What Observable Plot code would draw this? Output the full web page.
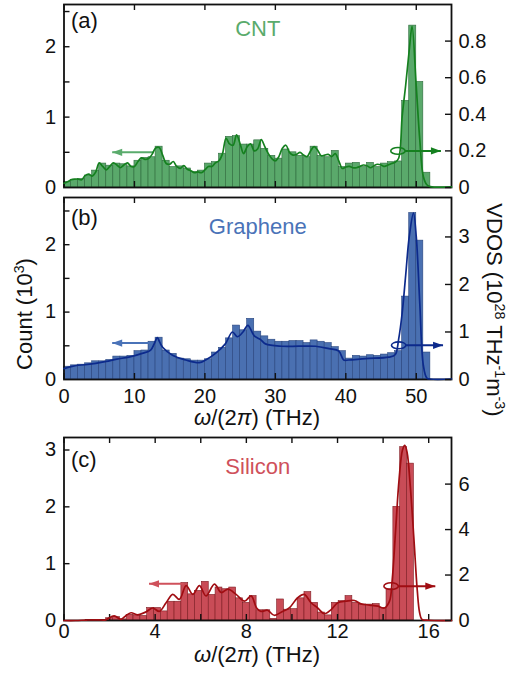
<!DOCTYPE html>
<html><head><meta charset="utf-8">
<script src="https://cdn.jsdelivr.net/npm/d3@7"></script>
<script src="https://cdn.jsdelivr.net/npm/@observablehq/plot@0.6"></script>
<style>
body{margin:0;background:#fff;}
#root{position:relative;width:508px;height:674px;overflow:hidden;font-family:"Liberation Sans",Arial,Helvetica,sans-serif;color:#111;}
.layer{position:absolute;left:0;}
.lab{position:absolute;font-size:22px;white-space:nowrap;line-height:1;transform-origin:center;}
.lab sup{font-size:65%;line-height:0;vertical-align:0.55em;}
</style></head><body><div id="root"></div>
<script>
// ---------- DATA ----------
// (a) CNT: histogram counts (10^3) in 1 THz bins starting at 0 THz
const cntCount = [0.08,0.11,0.12,0.17,0.24,0.34,0.31,0.34,0.33,0.30,
  0.38,0.42,0.43,0.58,0.38,0.29,0.30,0.27,0.22,0.24,
  0.34,0.36,0.48,0.72,0.73,0.61,0.61,0.67,0.55,0.45,
  0.41,0.54,0.50,0.45,0.43,0.58,0.45,0.43,0.52,0.29,
  0.34,0.35,0.29,0.35,0.29,0.34,0.36,0.37,1.23,2.30,
  1.50,0.21];
// (a) CNT VDOS curve [THz, 10^28 THz^-1 m^-3]
const cntVdos = [[0,0.023],[0.5,0.031],[1,0.042],[1.5,0.046],[2,0.046],[2.5,0.042],[3,0.065],[3.5,0.073],[4,0.062],[4.5,0.085],
  [5,0.135],[5.5,0.115],[6,0.096],[6.5,0.115],[7,0.135],[7.5,0.123],[8,0.108],[8.5,0.123],[9,0.135],[9.5,0.115],
  [10,0.115],[10.5,0.142],[11,0.162],[11.5,0.154],[12,0.158],[12.5,0.181],[13,0.215],[13.5,0.219],[14,0.177],[14.5,0.131],
  [15,0.127],[15.5,0.142],[16,0.115],[16.5,0.104],[17,0.119],[17.5,0.1],[18,0.092],[18.5,0.081],[19,0.085],[19.5,0.081],
  [20,0.096],[20.5,0.115],[21,0.115],[21.5,0.135],[22,0.146],[22.5,0.185],[23,0.269],[23.5,0.238],[24,0.231],[24.5,0.288],
  [25,0.238],[25.5,0.185],[26,0.223],[26.5,0.238],[27,0.2],[27.5,0.212],[28,0.262],[28.5,0.223],[29,0.185],[29.5,0.158],
  [30,0.146],[30.5,0.169],[31,0.215],[31.5,0.231],[32,0.192],[32.5,0.177],[33,0.181],[33.5,0.192],[34,0.177],[34.5,0.169],
  [35,0.2],[35.5,0.223],[36,0.204],[36.5,0.173],[37,0.177],[37.5,0.181],[38,0.169],[38.5,0.185],[39,0.146],[39.5,0.104],
  [40,0.112],[40.5,0.115],[41,0.108],[41.5,0.108],[42,0.115],[42.5,0.123],[43,0.119],[43.5,0.108],[44,0.119],[44.5,0.127],
  [45,0.123],[45.5,0.115],[46,0.123],[46.5,0.131],[47,0.138],[47.5,0.16],[48,0.39],[48.5,0.56],[49,0.75],[49.4,0.88],
  [50,0.55],[50.5,0.26],[51,0.06],[51.5,0.015],[52,0.005],[55,0.003]];

// (b) Graphene
const grCount = [0.19,0.21,0.22,0.24,0.27,0.27,0.29,0.34,0.34,0.35,
  0.42,0.43,0.56,0.62,0.43,0.38,0.31,0.30,0.28,0.28,
  0.30,0.40,0.47,0.61,0.80,0.73,0.90,0.71,0.64,0.59,
  0.56,0.56,0.57,0.57,0.54,0.58,0.56,0.54,0.48,0.42,
  0.31,0.35,0.34,0.36,0.35,0.37,0.39,0.42,1.23,2.47,
  2.06,0.40];
const grVdos = [[0,0.23],[1,0.27],[2,0.30],[3,0.31],[4.5,0.34],[6,0.38],[7.5,0.43],[9.2,0.47],[11.1,0.55],[12.3,0.62],
  [12.8,0.75],[13.25,0.88],[13.6,0.78],[14,0.68],[15.4,0.51],[17.3,0.41],[19.2,0.355],[20.1,0.41],[21.5,0.55],[22.9,0.75],
  [23.9,1.0],[24.6,0.9],[25.4,1.0],[26.1,1.14],[27,0.92],[27.9,0.84],[28.6,0.75],[30.9,0.70],[35.7,0.70],[37.6,0.65],
  [39,0.60],[39.7,0.41],[40.4,0.41],[42.8,0.44],[46.1,0.47],[47,0.52],[47.5,0.85],[48,1.4],[48.5,2.2],[49,3.0],
  [49.6,3.5],[50,3.0],[50.5,1.6],[51,0.3],[51.5,0.03],[52,0.01],[55,0.01]];

// (c) Silicon: bins of 0.3 THz starting at 0.05 THz
const siBinStart = 0.05, siBinWidth = 0.3;
const siCount = [0,0,0,0.01,0.01,0.01,0.04,0.06,0.02,0.10,
  0.09,0.08,0.22,0.22,0.16,0.33,0.33,0.66,0.46,0.52,
  0.68,0.45,0.58,0.55,0.58,0.39,0.31,0.43,0.18,0.18,
  0.03,0.37,0.19,0.20,0.39,0.50,0.31,0.14,0.09,0.31,
  0.34,0.43,0.31,0.28,0.28,0.29,0.22,0.55,2.00,3.05,
  2.76];
const siVdos = [[0,0],[0.5,0],[1,0.02],[1.5,0.03],[1.8,0.02],[2.2,0.2],[2.5,0.05],[2.7,0.2],[2.94,0.34],[3.23,0.25],
  [3.6,0.38],[3.89,0.55],[4.18,0.4],[4.48,0.78],[4.77,1.15],[5.06,0.93],[5.36,1.53],[5.65,1.15],[5.94,1.53],[6.23,1.08],
  [6.6,1.6],[6.9,1.23],[7.19,1.38],[7.55,1.15],[7.92,0.85],[8.21,1.08],[8.45,0.55],[8.64,0.4],[8.93,0.45],[9.22,0.23],
  [9.59,0.4],[9.88,0.55],[10.25,1.0],[10.54,1.15],[10.84,0.78],[11.13,0.55],[11.42,0.3],[11.72,0.48],[12.01,0.78],[12.37,0.85],
  [12.74,0.88],[13.03,0.73],[13.4,0.68],[13.77,0.63],[14.06,0.55],[14.28,0.85],[14.4,1.8],[14.55,4.0],[14.7,6.2],[14.85,7.5],
  [14.95,7.7],[15.05,7.4],[15.2,5.8],[15.35,3.6],[15.5,1.3],[15.6,0.35],[15.7,0.05],[16,0.01],[17,0]];

// tick values
const xTicksAB = [0,10,20,30,40,50];
const xTicksC = [0,2,4,6,8,10,12,14,16];
const xLabelsC = [0,4,8,12,16];

// ---------- DRAWING ----------
const FONT = '"Liberation Sans", Arial, Helvetica, sans-serif';
const W = 508, ML = 63.5, MR = 57, PW = W - ML - MR;
const fmt = d => String(d);

const headR = {draw(c){c.moveTo(0,0);c.lineTo(-10,-3.6);c.lineTo(-10,3.6);c.closePath();}};
const headL = {draw(c){c.moveTo(0,0);c.lineTo(10,-3.6);c.lineTo(10,3.6);c.closePath();}};
const ring = {draw(c){const rx=7.2,ry=3.4,k=0.5523;
  c.moveTo(rx,0);c.bezierCurveTo(rx,ry*k,rx*k,ry,0,ry);c.bezierCurveTo(-rx*k,ry,-rx,ry*k,-rx,0);
  c.bezierCurveTo(-rx,-ry*k,-rx*k,-ry,0,-ry);c.bezierCurveTo(rx*k,-ry,rx,-ry*k,rx,0);c.closePath();}};

function panel(cfg){
  const H = cfg.mt + cfg.ph + cfg.mb;
  const base = {width: W, height: H, marginTop: cfg.mt, marginBottom: cfg.mb, marginLeft: ML, marginRight: MR,
    style: {fontFamily: FONT, fontSize: "20px", background: "transparent", overflow: "visible", color: "#111"}};
  const tk = {stroke: "#111", strokeWidth: 1.4};
  const bars = cfg.counts.map((c, k) => ({x1: cfg.b0 + k*cfg.bw, x2: cfg.b0 + (k+1)*cfg.bw, y1: 0, y2: c}));
  const la = cfg.leftArrow, ra = cfg.rightArrow;
  const marks1 = [
    Plot.rect(bars, {x1: "x1", x2: "x2", y1: "y1", y2: "y2", fill: cfg.fill, stroke: cfg.edge, strokeWidth: 0.6}),
    Plot.link([la], {x1: "x1", y1: "y", x2: "x2", y2: "y", stroke: cfg.light, strokeWidth: 2}),
    Plot.dot([la], {x: "x2", y: "y", symbol: headL, fill: cfg.light, stroke: "none"}),
    Plot.tickX(cfg.xTicks, {x: d => d, insetTop: cfg.ph - 6, ...tk}),
    Plot.tickX(cfg.xTicks, {x: d => d, insetBottom: cfg.ph - 6, ...tk}),
    Plot.tickY(cfg.yTicks, {y: d => d, insetRight: PW - 6, ...tk}),
    Plot.axisY(cfg.yLabels, {anchor: "left", tickSize: 0, tickPadding: 8, fontSize: 20, tickFormat: fmt, label: null}),
    Plot.text([cfg.letter], {text: d => d, frameAnchor: "top-left", dx: 7, dy: cfg.letterDy, textAnchor: "start", lineAnchor: "middle", fontSize: 22, fill: "#111"}),
    Plot.text([cfg.title], {text: d => d, frameAnchor: "top", dy: cfg.titleDy, textAnchor: "middle", lineAnchor: "middle", fontSize: 22, fill: cfg.light}),
    Plot.frame({stroke: "#111", strokeWidth: 1.8})
  ];
  if (cfg.xLabels) marks1.push(Plot.axisX(cfg.xLabels, {anchor: "bottom", tickSize: 0, tickPadding: cfg.xPad, fontSize: 20, tickFormat: fmt, label: null}));
  const p1 = Plot.plot({...base,
    x: {domain: cfg.xDomain, axis: null}, y: {domain: cfg.yDomain, axis: null},
    marks: marks1});
  const p2 = Plot.plot({...base,
    x: {domain: cfg.xDomain, axis: null}, y: {domain: cfg.y2Domain, axis: null},
    marks: [
      Plot.line(cfg.vdos, {x: d => d[0], y: d => d[1], curve: "catmull-rom", stroke: cfg.dark, strokeWidth: 1.7}),
      Plot.dot([ra], {x: "x0", y: "y", symbol: ring, fill: "none", stroke: cfg.dark, strokeWidth: 1.6}),
      Plot.link([ra], {x1: "x1", y1: "y", x2: "x2", y2: "y", stroke: cfg.dark, strokeWidth: 2}),
      Plot.dot([ra], {x: "x2", y: "y", symbol: headR, fill: cfg.dark, stroke: "none"}),
      Plot.tickY(cfg.y2Ticks, {y: d => d, insetLeft: PW - 6, ...tk}),
      Plot.axisY(cfg.y2Ticks, {anchor: "right", tickSize: 0, tickPadding: 7, fontSize: 20, tickFormat: fmt, label: null})
    ]});
  for (const p of [p1, p2]) {
    p.classList.add("layer");
    p.style.top = cfg.top + "px";
    document.getElementById("root").appendChild(p);
  }
}

panel({top: 0, mt: 4, ph: 183, mb: 6, xDomain: [0, 55], xTicks: xTicksAB, xLabels: null,
  yDomain: [0, 2.6], yTicks: [0.5, 1, 1.5, 2, 2.5], yLabels: [0, 1, 2],
  y2Domain: [0, 1.0], y2Ticks: [0, 0.2, 0.4, 0.6, 0.8],
  counts: cntCount, b0: 0, bw: 1, vdos: cntVdos,
  fill: "#5aa96b", edge: "#2e6b3c", dark: "#15801f", light: "#5aab6c",
  letter: "(a)", letterDy: 16, title: "CNT", titleDy: 24,
  leftArrow: {x1: 12.7, x2: 6.84, y: 0.5}, rightArrow: {x0: 47.4, x1: 48.4, x2: 53.5, y: 0.2}});

panel({top: 190, mt: 7, ph: 182, mb: 44, xDomain: [0, 55], xTicks: xTicksAB, xLabels: xTicksAB, xPad: 9.5,
  yDomain: [0, 2.7], yTicks: [0.5, 1, 1.5, 2, 2.5], yLabels: [0, 1, 2],
  y2Domain: [0, 3.83], y2Ticks: [0, 1, 2, 3],
  counts: grCount, b0: 0, bw: 1, vdos: grVdos,
  fill: "#4a70b1", edge: "#28457e", dark: "#0c2a8c", light: "#4a73b8",
  letter: "(b)", letterDy: 20, title: "Graphene", titleDy: 29,
  leftArrow: {x1: 12.5, x2: 6.84, y: 0.54}, rightArrow: {x0: 47.5, x1: 48.5, x2: 53.8, y: 0.72}});

panel({top: 423, mt: 14, ph: 183, mb: 54, xDomain: [0, 17], xTicks: xTicksC, xLabels: xLabelsC, xPad: 3,
  yDomain: [0, 3.22], yTicks: [1, 2, 3], yLabels: [0, 1, 2, 3],
  y2Domain: [0, 8.05], y2Ticks: [0, 2, 4, 6],
  counts: siCount, b0: siBinStart, bw: siBinWidth, vdos: siVdos,
  fill: "#c94c57", edge: "#7e1c22", dark: "#a00d12", light: "#cf515b",
  letter: "(c)", letterDy: 22, title: "Silicon", titleDy: 29,
  leftArrow: {x1: 5.25, x2: 3.73, y: 0.645}, rightArrow: {x0: 14.35, x1: 14.66, x2: 16.29, y: 1.51}});

// axis titles
const root = document.getElementById("root");
function label(html, x, y, rot){
  const d = document.createElement("div");
  d.className = "lab";
  d.innerHTML = html;
  root.appendChild(d);
  d.style.left = x + "px"; d.style.top = y + "px";
  d.style.transform = `translate(-50%,-50%) rotate(${rot}deg)`;
}
label('<i>ω</i>/(2<i>π</i>) (THz)', 257, 418, 0);
label('<i>ω</i>/(2<i>π</i>) (THz)', 257, 655, 0);
label('Count (10<sup>3</sup>)', 25, 314, -90);
label('VDOS (10<sup>28</sup> THz<sup>-1</sup>m<sup>-3</sup>)', 494, 310, 90);
</script></body></html>
